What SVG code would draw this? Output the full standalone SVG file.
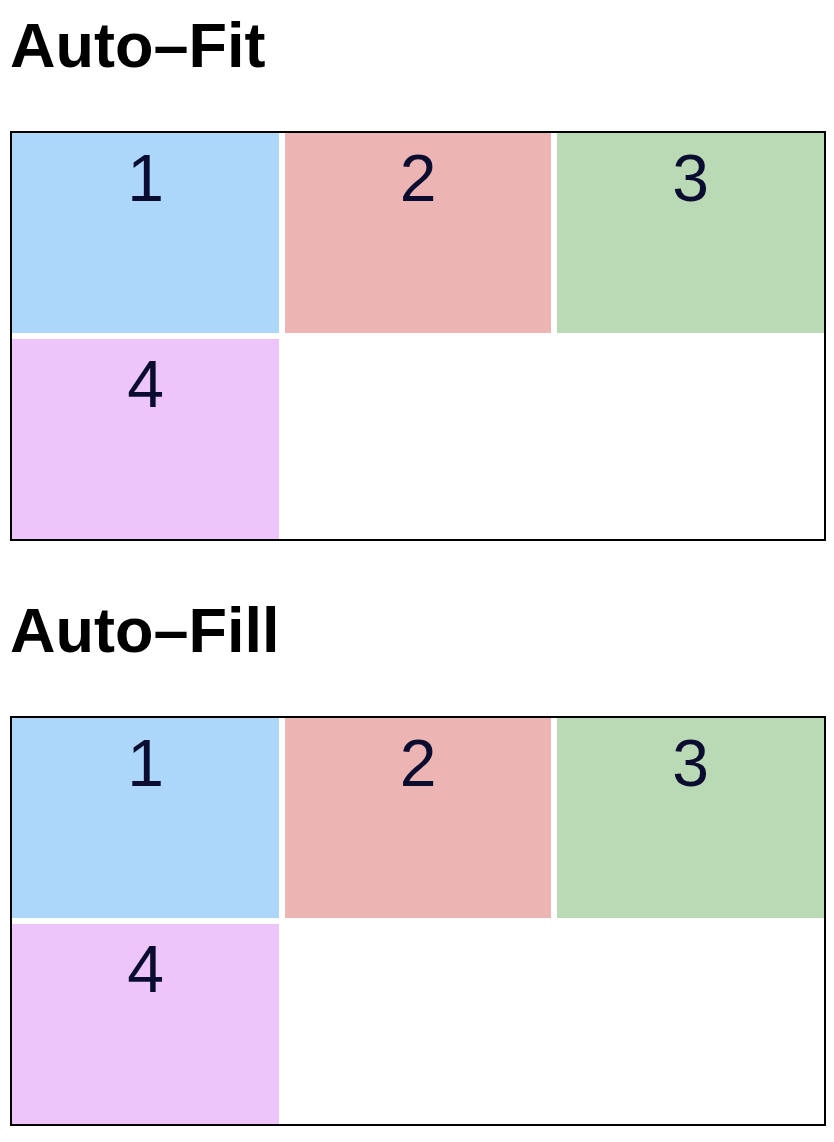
<svg xmlns="http://www.w3.org/2000/svg" width="834" height="1142" viewBox="0 0 834 1142">
<style>
.title{font-family:"Liberation Sans",Arial,sans-serif;font-weight:bold;font-size:63px;fill:#000}
.num{font-family:"Liberation Sans",Arial,sans-serif;font-size:66px;fill:#0a0c30;text-anchor:middle}
.frame{fill:#fff;stroke:#000;stroke-width:2}
.c1{fill:#acd7fa}.c2{fill:#edb4b4}.c3{fill:#bad9b5}.c4{fill:#edc5fa}
</style>
<rect width="834" height="1142" fill="#fff"/>
<g id="autofit">
<text class="title" x="10" y="67">Auto–Fit</text>
<rect class="frame" x="11" y="132" width="814" height="408"/>
<g id="fit-1"><rect class="c1" x="12" y="133" width="267" height="200"/><text class="num" x="145.5" y="201">1</text></g>
<g id="fit-2"><rect class="c2" x="285" y="133" width="266" height="200"/><text class="num" x="418" y="201">2</text></g>
<g id="fit-3"><rect class="c3" x="557" y="133" width="267" height="200"/><text class="num" x="690.5" y="201">3</text></g>
<g id="fit-4"><rect class="c4" x="12" y="339" width="267" height="200"/><text class="num" x="145.5" y="407">4</text></g>
</g>
<g id="autofill">
<text class="title" x="10" y="652">Auto–Fill</text>
<rect class="frame" x="11" y="717" width="814" height="408"/>
<g id="fill-1"><rect class="c1" x="12" y="718" width="267" height="200"/><text class="num" x="145.5" y="786">1</text></g>
<g id="fill-2"><rect class="c2" x="285" y="718" width="266" height="200"/><text class="num" x="418" y="786">2</text></g>
<g id="fill-3"><rect class="c3" x="557" y="718" width="267" height="200"/><text class="num" x="690.5" y="786">3</text></g>
<g id="fill-4"><rect class="c4" x="12" y="924" width="267" height="200"/><text class="num" x="145.5" y="992">4</text></g>
</g>
<g id="connectors"/>
</svg>
